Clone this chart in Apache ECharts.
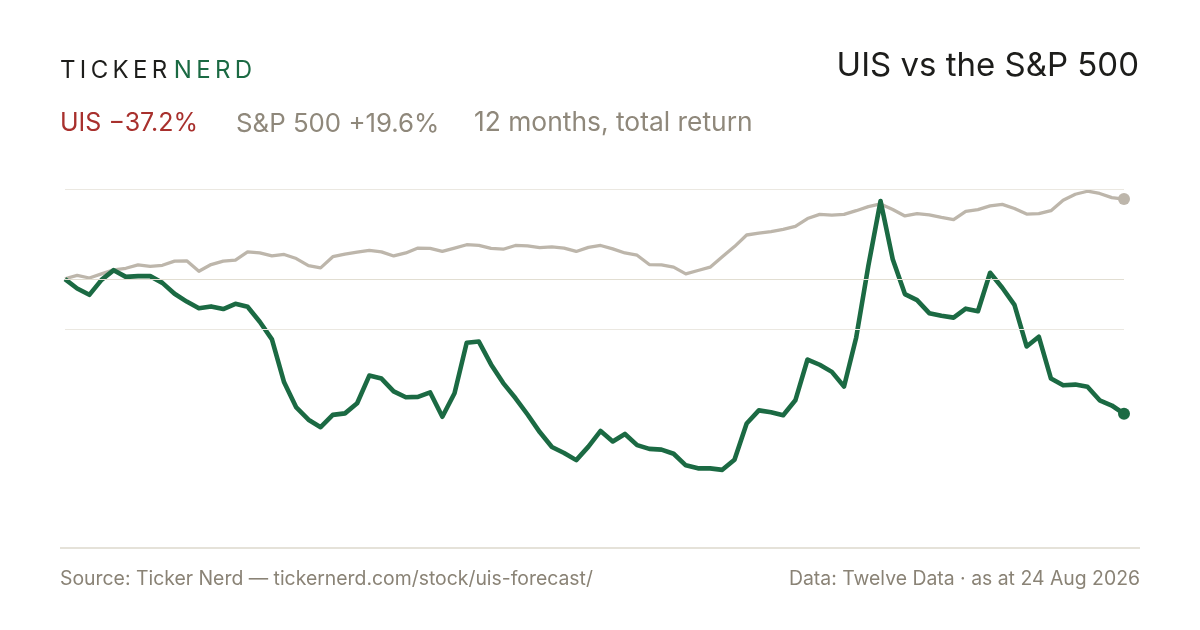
<!DOCTYPE html>
<html>
<head>
<meta charset="utf-8">
<title>UIS vs the S&amp;P 500</title>
<script src="https://cdn.jsdelivr.net/npm/echarts@6/dist/echarts.min.js"></script>
<style>
  html, body { margin: 0; padding: 0; background: #fff; }
  #main { width: 1200px; height: 630px; }
</style>
</head>
<body>
<div id="main"></div>
<script>
// 12 months, total return in %, sampled every few trading days
const uisReturn = [
  -0.1, -2.6, -4.3, -0.3, 2.3, 0.5, 0.7, 0.7, -1.1, -4.0,
  -6.1, -7.9, -7.4, -8.1, -6.7, -7.5, -11.5, -16.2, -27.7, -34.4,
  -37.7, -39.7, -36.4, -36.0, -33.3, -25.9, -26.7, -30.1, -31.7, -31.6,
  -30.4, -36.9, -30.6, -17.1, -16.8, -22.9, -27.9, -31.9, -36.3, -41.0,
  -45.0, -46.6, -48.5, -44.9, -40.7, -43.5, -41.5, -44.5, -45.5, -45.7,
  -46.8, -49.9, -50.7, -50.7, -51.1, -48.4, -38.7, -35.2, -35.7, -36.5,
  -32.5, -21.6, -23.0, -24.9, -28.8, -15.7, 3.5, 20.8, 5.2, -4.1,
  -5.7, -9.2, -9.9, -10.4, -8.0, -8.7, 1.6, -2.4, -7.0, -18.1,
  -15.5, -26.7, -28.5, -28.3, -28.9, -32.5, -33.9, -36.1
];
const spxReturn = [
  0.0, 0.9, 0.2, 1.3, 2.4, 2.8, 3.7, 3.3, 3.6, 4.7,
  4.8, 2.0, 3.8, 4.7, 5.0, 7.2, 6.9, 6.1, 6.5, 5.4,
  3.5, 2.9, 5.9, 6.6, 7.1, 7.6, 7.2, 6.1, 6.9, 8.2,
  8.1, 7.3, 8.2, 9.1, 8.9, 8.1, 7.9, 8.9, 8.8, 8.3,
  8.5, 8.2, 7.3, 8.4, 8.9, 8.0, 6.9, 6.3, 3.8, 3.7,
  3.1, 1.3, 2.2, 3.1, 5.9, 8.6, 11.7, 12.2, 12.6, 13.2,
  14.0, 16.1, 17.2, 17.0, 17.2, 18.2, 19.3, 20.0, 18.5, 16.8,
  17.4, 17.1, 16.4, 15.8, 18.0, 18.5, 19.5, 19.9, 18.8, 17.3,
  17.4, 18.2, 21.0, 22.6, 23.4, 22.8, 21.7, 21.3
];
const points = uisReturn.map((_, i) => 'p' + i);
const gridLevels = [24, 0, -13.5];

const green = '#1b6a43';
const sand = '#bdb6ab';
const muted = '#8f887b';
const fontFamily = 'Inter, "Liberation Sans", sans-serif';

const chart = echarts.init(document.getElementById('main'), null, { renderer: 'canvas' });

function endDot(values, color) {
  const last = values.length - 1;
  return {
    symbol: 'circle',
    symbolSize: 12,
    silent: true,
    label: { show: false },
    itemStyle: { color: color },
    data: [{ coord: [points[last], values[last]] }]
  };
}

function label(text, left, top, size, color, extra) {
  return Object.assign({
    type: 'text',
    left: left,
    top: top,
    silent: true,
    style: { text: text, fontFamily: fontFamily, fontSize: size, fill: color }
  }, extra || {});
}

const option = {
  backgroundColor: '#ffffff',
  animation: false,
  grid: { left: 65, right: 76, top: 189, bottom: 82 },
  xAxis: {
    type: 'category',
    data: points,
    boundaryGap: false,
    axisLine: { show: false },
    axisTick: { show: false },
    axisLabel: { show: false },
    splitLine: { show: false }
  },
  yAxis: {
    type: 'value',
    min: -72,
    max: 24,
    axisLine: { show: false },
    axisTick: { show: false },
    axisLabel: { show: false },
    splitLine: { show: false }
  },
  series: [
    {
      name: 'S&P 500',
      type: 'line',
      data: spxReturn,
      showSymbol: false,
      lineStyle: { color: sand, width: 3.3, join: 'round' },
      itemStyle: { color: sand },
      z: 2,
      markLine: {
        silent: true,
        symbol: ['none', 'none'],
        label: { show: false },
        lineStyle: { type: 'solid', width: 1.2, color: '#ebe8e1' },
        data: gridLevels.map(v => ({
          yAxis: v,
          lineStyle: v === 0 ? { color: '#e2ded2' } : {}
        }))
      },
      markPoint: endDot(spxReturn, sand)
    },
    {
      name: 'UIS',
      type: 'line',
      data: uisReturn,
      showSymbol: false,
      lineStyle: { color: green, width: 4.6, join: 'round' },
      itemStyle: { color: green },
      z: 3,
      markPoint: endDot(uisReturn, green)
    }
  ],
  graphic: [
    {
      type: 'line',
      shape: { x1: 60, y1: 548, x2: 1140, y2: 548 },
      style: { stroke: '#dcd8cd', lineWidth: 1.5 },
      silent: true
    },
    {
      type: 'text',
      left: 60,
      top: 59,
      silent: true,
      style: {
        text: '{a|T\u2009I\u2009C\u2009K\u2009E\u2009R}{s|\u2009\u200a}{b|N\u2009E\u2009R\u2009D}',
        rich: {
          a: { fontFamily: fontFamily, fontSize: 24, fill: '#1d1d1b' },
          s: { fontFamily: fontFamily, fontSize: 24 },
          b: { fontFamily: fontFamily, fontSize: 24, fill: green }
        }
      }
    },
    label('UIS vs the S&P 500', null, 50, 33, '#1d1d1b', { right: 61 }),
    label('UIS \u221237.2%', 60, 111, 25, '#a8302d'),
    label('S&P 500 +19.6%', 236, 111, 25.8, muted),
    label('12 months, total return', 474, 110, 26.4, muted),
    label('Source: Ticker Nerd \u2014 tickernerd.com/stock/uis-forecast/', 60, 570, 19.4, '#8a8376'),
    label('Data: Twelve Data \u00b7 as at 24 Aug 2026', null, 570, 19.4, '#8a8376', { right: 60 })
  ]
};

chart.setOption(option);
</script>
</body>
</html>
